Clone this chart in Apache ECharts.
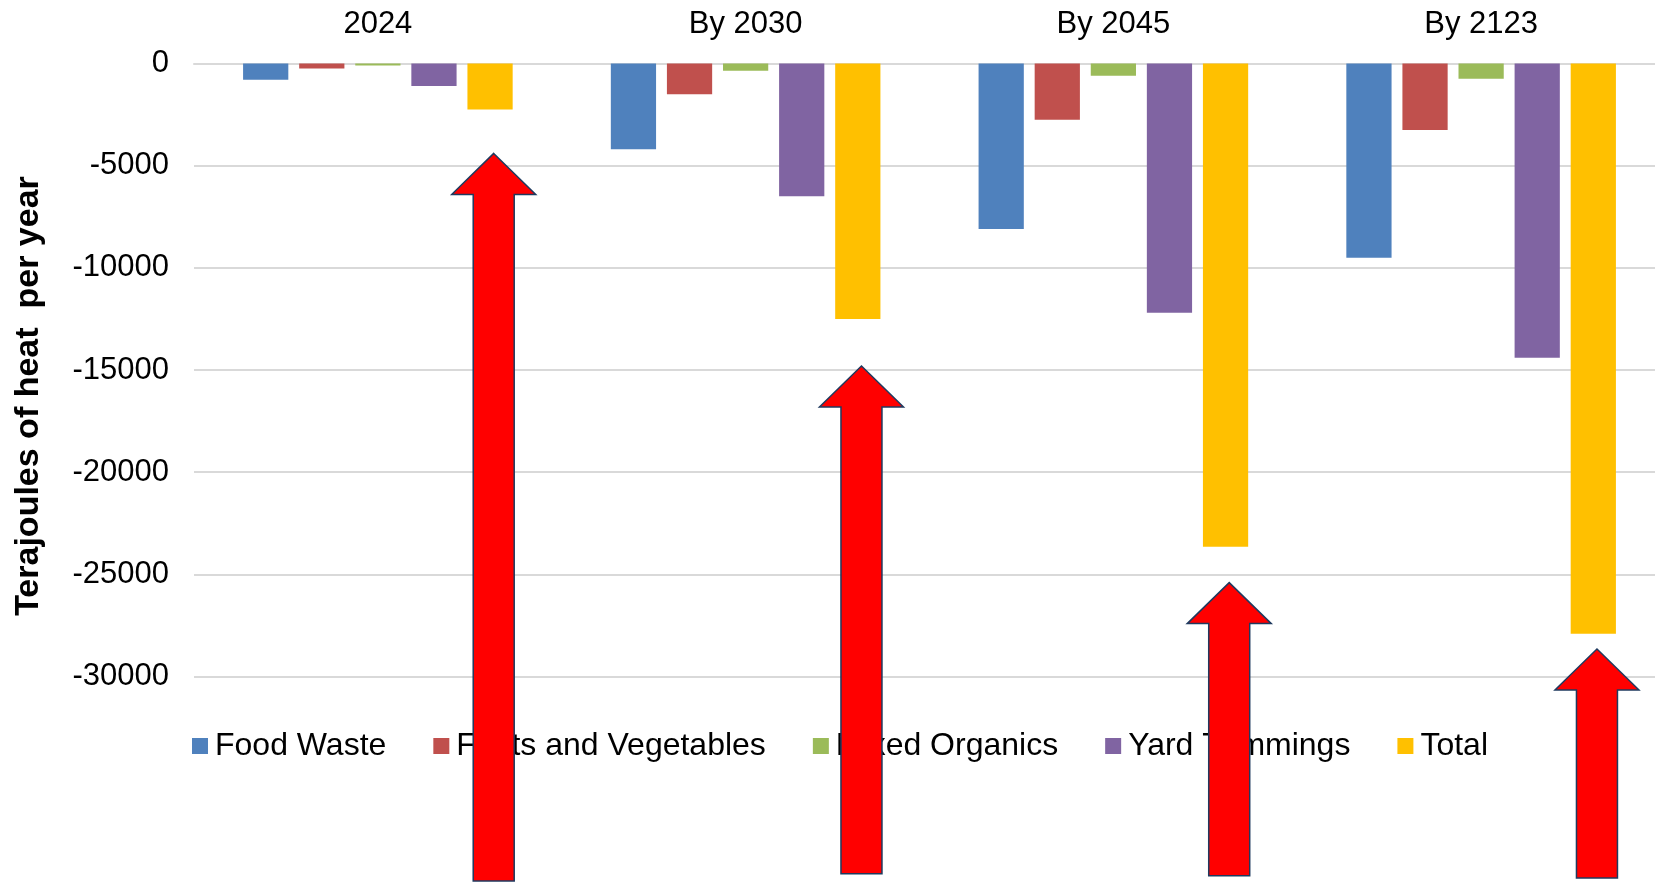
<!DOCTYPE html>
<html>
<head>
<meta charset="utf-8">
<script src="https://cdn.jsdelivr.net/npm/echarts@6/dist/echarts.min.js"></script>
<style>
html,body{margin:0;padding:0;background:#fff;}
#chart{width:1655px;height:883px;}
</style>
</head>
<body>
<div id="chart"></div>
<script>
// ---- data ----
const categories = ["2024", "By 2030", "By 2045", "By 2123"];
const foodWaste = [-800, -4200, -8100, -9500];
const fruitsVeg = [-250, -1500, -2750, -3250];
const mixedOrganics = [-100, -350, -600, -750];
const yardTrimmings = [-1100, -6500, -12200, -14400];
const total = [-2250, -12500, -23650, -27900];
const arrowTips = [-4400, -14800, -25400, -28650];
const arrowBases = [-40000, -39650, -39750, -39850];
const yTicks = [0, -5000, -10000, -15000, -20000, -25000, -30000];

const FONT = '"Liberation Sans", Arial, sans-serif';
const chart = echarts.init(document.getElementById('chart'), null, {renderer: 'canvas'});

const barCommon = {type: 'bar', barWidth: '12.3%', barGap: '24%'};

const option = {
  animation: false,
  backgroundColor: '#ffffff',
  textStyle: {fontFamily: FONT},
  grid: {left: 194, width: 1471, top: 63.5, bottom: 206.4, containLabel: false, outerBoundsMode: 'none'},
  legend: {
    data: ['Food Waste', 'Fruits and Vegetables', 'Mixed Organics', 'Yard Trimmings', 'Total'],
    left: 187, top: 725,
    itemWidth: 16, itemHeight: 16, itemGap: 47,
    icon: 'rect',
    textStyle: {fontFamily: FONT, fontSize: 32, color: '#000', padding: [0, 0, 0, 2]}
  },
  xAxis: {
    type: 'category',
    data: categories,
    position: 'top',
    axisLine: {show: true, lineStyle: {color: '#D9D9D9', width: 2}},
    axisTick: {show: false},
    axisLabel: {fontFamily: FONT, fontSize: 31, color: '#000', margin: 24}
  },
  yAxis: {
    type: 'value',
    min: -30000, max: 0, interval: 5000,
    name: 'Terajoules of heat  per year',
    nameLocation: 'middle', nameRotate: 90, nameGap: 148,
    nameTextStyle: {fontFamily: FONT, fontSize: 34, fontWeight: 'bold', color: '#000', padding: [0, 52, 0, 0]},
    axisLine: {show: false},
    axisTick: {show: false},
    splitLine: {show: true, lineStyle: {color: '#D9D9D9', width: 2}},
    axisLabel: {
      fontFamily: FONT, fontSize: 31, color: '#000', margin: 25,
      formatter: v => (yTicks.indexOf(v) >= 0 ? String(v) : '')
    }
  },
  series: [
    Object.assign({name: 'Food Waste', data: foodWaste, itemStyle: {color: '#4F81BD'}}, barCommon),
    Object.assign({name: 'Fruits and Vegetables', data: fruitsVeg, itemStyle: {color: '#C0504D'}}, barCommon),
    Object.assign({name: 'Mixed Organics', data: mixedOrganics, itemStyle: {color: '#9BBB59'}}, barCommon),
    Object.assign({name: 'Yard Trimmings', data: yardTrimmings, itemStyle: {color: '#8064A2'}}, barCommon),
    Object.assign({name: 'Total', data: total, itemStyle: {color: '#FFC000'}}, barCommon),
    {
      name: 'arrows',
      type: 'custom',
      clip: false,
      z: 10,
      encode: {x: 0, y: 1},
      data: categories.map((c, i) => [i, arrowTips[i], arrowBases[i]]),
      renderItem: function (params, api) {
        const tip = api.coord([api.value(0), api.value(1)]);
        const base = api.coord([api.value(0), api.value(2)]);
        const band = api.size([1, 0])[0];
        const cx = tip[0] + band * 0.315;
        const ty = tip[1], by = base[1];
        const hw = 42, sw = 20.5, hh = 41;
        return {
          type: 'polygon',
          shape: {points: [[cx, ty], [cx + hw, ty + hh], [cx + sw, ty + hh], [cx + sw, by],
                           [cx - sw, by], [cx - sw, ty + hh], [cx - hw, ty + hh]]},
          style: {fill: '#FF0000', stroke: '#1F3A5F', lineWidth: 1.5}
        };
      }
    }
  ]
};
chart.setOption(option);
</script>
</body>
</html>
